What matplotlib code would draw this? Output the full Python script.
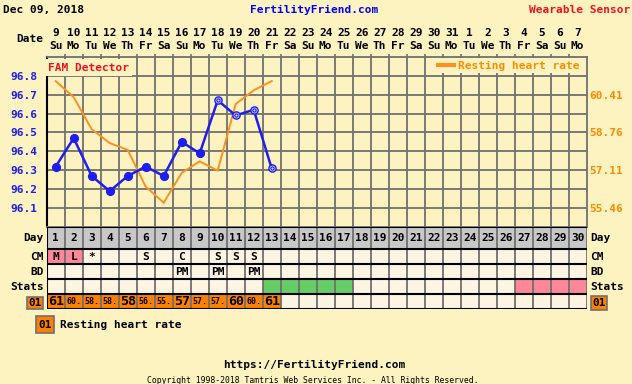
import numpy as np
import matplotlib
matplotlib.use('Agg')
import matplotlib.pyplot as plt
from matplotlib.patches import Rectangle
from matplotlib.transforms import blended_transform_factory

# ---------------- data ----------------
title_date = "Dec 09, 2018"
site_name = "FertilityFriend.com"
sensor_name = "Wearable Sensor"
date_nums = [9, 10, 11, 12, 13, 14, 15, 16, 17, 18, 19, 20, 21, 22, 23, 24, 25, 26,
             27, 28, 29, 30, 31, 1, 2, 3, 4, 5, 6, 7]
weekdays = ['Su', 'Mo', 'Tu', 'We', 'Th', 'Fr', 'Sa'] * 4 + ['Su', 'Mo']
cycle_days = list(range(1, 31))

bbt_days = list(range(1, 14))
bbt_temps = [96.32, 96.47, 96.27, 96.19, 96.27, 96.32, 96.27, 96.45, 96.39,
             96.67, 96.59, 96.62, 96.31]
bbt_open_from_day = 10

rhr_days = list(range(1, 14))
rhr_values = [61.0, 60.3, 58.9, 58.3, 58.0, 56.4, 55.7, 57.0, 57.5, 57.1, 60.0, 60.6, 61.0]

temp_ticks = [96.1, 96.2, 96.3, 96.4, 96.5, 96.6, 96.7, 96.8]
rhr_ticks = [55.46, 57.11, 58.76, 60.41]

cm_days = [1, 2, 3, 6, 8, 10, 11, 12]
cm_codes = ['M', 'L', '*', 'S', 'C', 'S', 'S', 'S']
cm_pink_days = [1, 2]
bd_days = [8, 10, 12]
bd_codes = ['PM', 'PM', 'PM']
stats_green_days = [13, 14, 15, 16, 17]
stats_pink_days = [27, 28, 29, 30]

# ---------------- style ----------------
W, H = 632, 384
BG = '#FDF3C0'
CELL = '#FDF5E2'
GRAYROW = '#C8C8C8'
GRID = '#707070'
BLUE = '#1E1EF0'
ORANGE_LINE = '#FF9020'
ORANGE_TXT = '#FF8C00'
ORANGE_BOX = '#FF8000'
PINK = '#FF8799'
GREEN = '#66CC66'
RED = '#EE1122'
FONT = 'DejaVu Sans Mono'

fig = plt.figure(figsize=(W / 100, H / 100), dpi=100, facecolor=BG)

def fx(x):
    return x / W

def fy(y):
    return 1 - y / H

def ftext(x, y, s, **kw):
    kw.setdefault('family', FONT)
    kw.setdefault('weight', 'bold')
    kw.setdefault('size', 8)
    kw.setdefault('va', 'center')
    fig.text(fx(x), fy(y), s, **kw)

def fbox(x0, y0, x1, y1, fc, ec=GRID, lw=1.2):
    fig.add_artist(Rectangle((fx(x0), fy(y1)), fx(x1) - fx(x0), fy(y0) - fy(y1),
                             transform=fig.transFigure, facecolor=fc, edgecolor=ec, lw=lw))

# plot geometry (pixels)
PL, PR = 46.7, 586.7
PT, PB = 56.8, 227.1
TT, TB = 226.7, 309.3

t_lo, t_hi = 96.0, 96.9
slope = (rhr_ticks[-1] - rhr_ticks[0]) / (temp_ticks[6] - temp_ticks[0])
r_lo = rhr_ticks[0] + (t_lo - temp_ticks[0]) * slope
r_hi = rhr_ticks[0] + (t_hi - temp_ticks[0]) * slope

# ---------------- main chart ----------------
ax = fig.add_axes([fx(PL), fy(PB), fx(PR) - fx(PL), fy(PT) - fy(PB)])
ax.set_facecolor(BG)
ax.set_xlim(0.5, 30.5)
ax.set_ylim(t_lo, t_hi)
bounds = np.arange(1.5, 30.5, 1)
ax.set_xticks(bounds)
ax.set_yticks(temp_ticks)
ax.set_yticklabels([f"{t:.1f}" for t in temp_ticks], color=BLUE, family=FONT,
                   weight='bold', size=8)
ax.tick_params(axis='y', length=0, pad=7)
ax.tick_params(axis='x', top=True, bottom=False, labelbottom=False, length=2.5,
               color=GRID, width=1.2)
ax.grid(True, color=GRID, lw=1.3)
for s in ['top', 'right', 'bottom']:
    ax.spines[s].set_color(GRID)
    ax.spines[s].set_linewidth(1.3)
ax.spines['left'].set_color('black')
ax.spines['left'].set_linewidth(1.5)

ax.text(0.55, t_hi - 0.058, "FAM Detector", color=RED, family=FONT, weight='bold',
        size=8, va='center', ha='left',
        bbox=dict(facecolor=BG, edgecolor='none', pad=2.6))

# date labels above
tr = blended_transform_factory(ax.transData, fig.transFigure)
for d, n, wd in zip(cycle_days, date_nums, weekdays):
    ax.text(d, fy(33.5), str(n), transform=tr, ha='center', va='center',
            family=FONT, weight='bold', size=8)
    ax.text(d, fy(46), wd, transform=tr, ha='center', va='center',
            family=FONT, weight='bold', size=8)

# RHR axis
ax2 = ax.twinx()
ax2.set_ylim(r_lo, r_hi)
ax2.set_yticks(rhr_ticks)
ax2.set_yticklabels([f"{r:.2f}" for r in rhr_ticks], color=ORANGE_TXT, family=FONT,
                    weight='bold', size=8)
ax2.tick_params(axis='y', length=0, pad=2)
for s in ax2.spines.values():
    s.set_visible(False)
ax2.plot(rhr_days, rhr_values, color=ORANGE_LINE, lw=1.4, label="Resting heart rate",
         solid_joinstyle='miter')
leg = ax2.legend(loc='upper right', bbox_to_anchor=(1 - 3 / 540, 1.0), frameon=True,
                 facecolor=BG, edgecolor='none', framealpha=1, fancybox=False,
                 prop=dict(family=FONT, weight='bold', size=8), labelcolor=ORANGE_TXT,
                 handlelength=1.4, handletextpad=0.4, borderpad=0.25, borderaxespad=0.1)
leg.get_lines()[0].set_linewidth(3)

# BBT on top
ax3 = fig.add_axes(ax.get_position())
ax3.set_xlim(0.5, 30.5)
ax3.set_ylim(t_lo, t_hi)
ax3.axis('off')
ax3.plot(bbt_days, bbt_temps, color=BLUE, lw=1.8)
fd = [d for d in bbt_days if d < bbt_open_from_day]
ft = [t for d, t in zip(bbt_days, bbt_temps) if d < bbt_open_from_day]
od = [d for d in bbt_days if d >= bbt_open_from_day]
ot = [t for d, t in zip(bbt_days, bbt_temps) if d >= bbt_open_from_day]
ax3.plot(fd, ft, 'o', color=BLUE, ms=5.6, mec=BLUE)
ax3.plot(od, ot, 'o', mfc='#DCDCF0', mec=BLUE, ms=5.2, mew=1.0)
ax3.plot(od, ot, 'o', mfc='none', mec=BLUE, ms=2.3, mew=0.8)

# ---------------- table ----------------
tax = fig.add_axes([fx(PL), fy(TB), fx(PR) - fx(PL), fy(TT) - fy(TB)])
tax.set_xlim(0.5, 30.5)
tax.set_ylim(TB, TT)
tax.axis('off')
rows = [(226.7, 249.0), (249.0, 264.3), (264.3, 279.3), (279.3, 294.3), (294.3, 309.3)]

def cell(day, r, color):
    y0, y1 = rows[r]
    tax.add_patch(Rectangle((day - 0.5, y0), 1, y1 - y0, facecolor=color, edgecolor='none'))

def center(r):
    return (rows[r][0] + rows[r][1]) / 2

for d in cycle_days:
    cell(d, 0, GRAYROW)
    for r in range(1, 5):
        cell(d, r, CELL)
for d in cm_pink_days:
    cell(d, 1, PINK)
for d in stats_green_days:
    cell(d, 3, GREEN)
for d in stats_pink_days:
    cell(d, 3, PINK)
for d in rhr_days:
    cell(d, 4, ORANGE_BOX)

for b in bounds:
    tax.plot([b, b], [TT, TB], color=GRID, lw=1.3)
tax.plot([30.5, 30.5], [TT, TB], color=GRID, lw=1.3)
tax.plot([0.5, 0.5], [TT, TB], color='black', lw=1.5)
for y0, y1 in rows:
    tax.plot([0.5, 30.5], [y0, y0], color='black', lw=1.5)
tax.plot([0.5, 30.5], [TB, TB], color='black', lw=1.5)

for d in cycle_days:
    tax.text(d, center(0), str(d), ha='center', va='center', family=FONT,
             weight='bold', size=8)
for d, c in zip(cm_days, cm_codes):
    tax.text(d, center(1), c, ha='center', va='center', family=FONT, weight='bold', size=8)
for d, c in zip(bd_days, bd_codes):
    tax.text(d, center(2), c, ha='center', va='center', family=FONT, weight='bold', size=8)
for d, v in zip(rhr_days, rhr_values):
    if float(v).is_integer():
        tax.text(d, center(4), f"{int(v)}", ha='center', va='center', family=FONT,
                 weight='bold', size=9.5)
    else:
        tax.text(d, center(4), f"{int(v)}.", ha='center', va='center', family=FONT,
                 weight='bold', size=6)

row_labels = ['Day', 'CM', 'BD', 'Stats']
for r, lab in enumerate(row_labels):
    ftext(43.5, center(r), lab, ha='right')
    ftext(590, center(r), lab, ha='left')
ftext(43.5, 39.5, 'Date', ha='right')

fbox(26.7, 296.7, 43.3, 309.3, ORANGE_BOX)
ftext(35, 303, '01', ha='center')
fbox(590.7, 295.7, 607.3, 310, ORANGE_BOX)
ftext(599, 303, '01', ha='center')
fbox(36, 316, 54, 333, ORANGE_BOX)
ftext(45, 324.5, '01', ha='center')
ftext(60, 325, 'Resting heart rate', ha='left')

# header
ftext(3, 10, title_date, ha='left')
ftext(314.5, 10, site_name, ha='center', color='#0000FF')
ftext(630, 10, sensor_name, ha='right', color=RED)

# footer
ftext(314, 364.5, 'https://FertilityFriend.com', ha='center')
ftext(313, 380.5, 'Copyright 1998-2018 Tamtris Web Services Inc. - All Rights Reserved.',
      ha='center', size=5.9, weight='normal')

fig.savefig('out.png', dpi=100, facecolor=BG)
